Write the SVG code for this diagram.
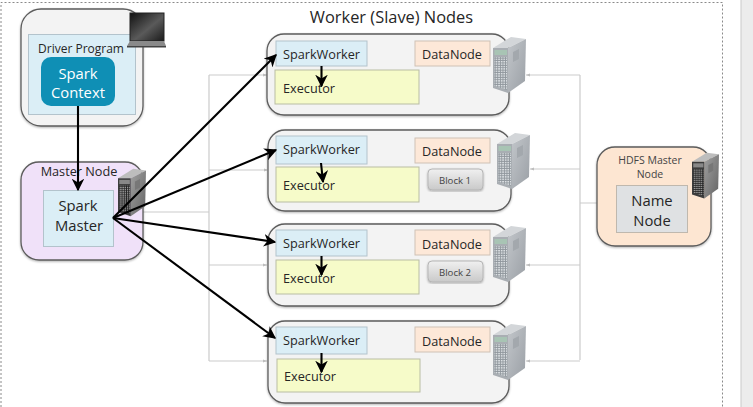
<svg xmlns="http://www.w3.org/2000/svg" width="753" height="407" viewBox="0 0 753 407">
<style>
text{font-family:"Open Sans","Noto Sans","Liberation Sans",sans-serif;fill:#262626;text-anchor:middle}
.outer{stroke:#5c5c5c;stroke-width:1.3;filter:url(#sh)}
.worker{fill:#f3f3f3}
.sw{fill:#dbeef6;stroke:#b3c3cc;stroke-width:1}
.ex{fill:#f6fbc9;stroke:#b9bda4;stroke-width:1}
.dn{fill:#fde8d8;stroke:#cfc2b6;stroke-width:1}
.blk{fill:url(#blk);stroke:#b5b5b5;stroke-width:1;filter:url(#sh)}
.t{font-size:12.7px}
.tb{font-size:14.8px}
.ts{font-size:9.6px;fill:#444}
.grey{fill:none;stroke:#cbcbcb;stroke-width:1.2}
.gh{fill:#bdbdbd}
.blk-line{fill:none;stroke:#000;stroke-width:2.1;marker-end:url(#ah)}
</style>
<defs>
<filter id="sh" x="-5%" y="-5%" width="110%" height="112%"><feDropShadow dx="0" dy="1" stdDeviation="1" flood-color="#000" flood-opacity=".3"/></filter>
<linearGradient id="blk" x1="0" y1="0" x2="0" y2="1"><stop offset="0" stop-color="#f0f0f0"/><stop offset="1" stop-color="#c9c9c9"/></linearGradient>
<linearGradient id="r1" x1="0" y1="0" x2="1" y2="1"><stop offset="0" stop-color="#c2c6ca"/><stop offset="1" stop-color="#9a9fa5"/></linearGradient>
<linearGradient id="r2" x1="0" y1="0" x2="1" y2="1"><stop offset="0" stop-color="#a0a0a0"/><stop offset="1" stop-color="#646464"/></linearGradient>
<linearGradient id="scr" x1="0" y1="0" x2="1" y2="1"><stop offset="0" stop-color="#111"/><stop offset=".55" stop-color="#5a5a5a"/><stop offset="1" stop-color="#1a1a1a"/></linearGradient>
<pattern id="g1" width="2.6" height="2.4" patternUnits="userSpaceOnUse"><rect width="2.6" height="2.4" fill="#8f969c"/><rect width="1.7" height="1.4" fill="#dfe3e6"/></pattern>
<pattern id="g2" width="2.6" height="2.4" patternUnits="userSpaceOnUse"><rect width="2.6" height="2.4" fill="#222"/><rect width="1.7" height="1.4" fill="#9a9a9a"/></pattern>
<marker id="ah" viewBox="0 0 10 10" refX="9" refY="5" markerWidth="6" markerHeight="6" orient="auto" markerUnits="strokeWidth"><path d="M0 0L10 5L0 10L3 5Z" fill="#000"/></marker>
<symbol id="srv" viewBox="0 0 33 57" overflow="visible">
<polygon points="0,11 18,0 33,2 15,11" fill="#d3d6d9"/>
<polygon points="15,11 33,2 32,44 15,56" fill="url(#r1)"/>
<polygon points="0,11 15,11 15,56 0,51" fill="#a9aeb3"/>
<polygon points="20,15 26,12 26,22 20,25" fill="#a3a8ad"/>
<polygon points="1.500,13 14,13 14,18 1.500,18" fill="#a8c4b4"/>
<polygon points="1.500,20 14,20 14,53 1.500,49" fill="url(#g1)"/>
</symbol>
<symbol id="srvd" viewBox="0 0 33 57" overflow="visible">
<polygon points="0,11 18,0 33,2 15,11" fill="#bdbdbd"/>
<polygon points="15,11 33,2 32,44 15,56" fill="url(#r2)"/>
<polygon points="0,11 15,11 15,56 0,51" fill="#3c3c3c"/>
<polygon points="20,15 26,12 26,22 20,25" fill="#777"/>
<polygon points="1.500,13 14,13 14,18 1.500,18" fill="#888"/>
<polygon points="1.500,20 14,20 14,53 1.500,49" fill="url(#g2)"/>
</symbol>
</defs>
<rect width="753" height="407" fill="#fff"/>
<rect x="741" y="0" width="12" height="407" fill="#ececec"/>
<line x1="741" y1="0" x2="741" y2="407" stroke="#c9c9c9"/>
<path d="M1 407V2.500H722.500V407" fill="none" stroke="#8a8a8a" stroke-width="1" stroke-dasharray="2 2"/>
<text x="391.500" y="23" font-size="16.400">Worker (Slave) Nodes</text>

<g id="connectors-data">
<path class="grey" d="M143 212H209M209 75V361M209 75H267M209 170H267M209 265H267M209 361H267"/>
<path class="grey" d="M597 203H580M580 75V360M580 75H526M580 169H530M580 265H526M580 361H526"/>
<path class="gh" d="M267 75l-4-1.500v3zM268 170l-4-1.500v3zM267 265l-4-1.500v3zM267 361l-4-1.500v3zM526 75l4-1.500v3zM530 169l4-1.500v3zM526 265l4-1.500v3zM526 361l4-1.500v3z"/>
</g>

<g id="driver">
<rect class="outer" x="21" y="9" width="122" height="117" rx="20" fill="#f3f3f3"/>
<rect x="28.500" y="34.500" width="107" height="80" fill="#dbeef6" stroke="#b3c3cc"/>
<text x="81" y="53" font-size="12">Driver Program</text>
<rect x="41" y="57" width="74" height="49" rx="10" fill="#0f8fb5"/>
<text x="78" y="79" font-size="14.800" style="fill:#fff">Spark</text>
<text x="78" y="98" font-size="14.800" style="fill:#fff">Context</text>
</g>
<g id="laptop">
<rect x="130" y="13" width="34" height="28" fill="url(#scr)" stroke="#222"/>
<polygon points="130,41 164,41 166,46 127,46" fill="#8a8a8a"/>
<rect x="127" y="46" width="39" height="1.500" fill="#444"/>
</g>

<g id="master">
<rect class="outer" x="21" y="162" width="122" height="98" rx="18" fill="#f0e1f9"/>
<text class="t" x="79" y="176">Master Node</text>
<rect x="43.500" y="190.500" width="70" height="56" fill="#dbeef6" stroke="#b3c3cc"/>
<text class="tb" x="78" y="211">Spark</text>
<text class="tb" x="79" y="231">Master</text>
<use href="#srvd" x="118" y="165" width="28" height="56"/>
</g>

<g id="worker1">
<rect class="outer worker" x="267" y="34" width="242" height="81" rx="17"/>
<rect class="sw" x="276" y="41" width="91" height="25"/>
<rect class="ex" x="275" y="70" width="144" height="34"/>
<rect class="dn" x="415" y="41" width="75" height="25"/>
<text class="t" x="321.500" y="59">SparkWorker</text>
<text class="t" x="309" y="93">Executor</text>
<text class="t" x="452" y="59">DataNode</text>
<use href="#srv" x="493" y="37" width="33" height="57"/>
</g>
<g id="worker2">
<rect class="outer worker" x="268" y="130" width="243" height="81" rx="17"/>
<rect class="sw" x="276" y="136" width="91" height="28"/>
<rect class="ex" x="276" y="167" width="143" height="35"/>
<rect class="dn" x="415" y="138" width="75" height="25"/>
<rect class="blk" x="428" y="169" width="55" height="21" rx="4"/>
<text class="t" x="321.500" y="154">SparkWorker</text>
<text class="t" x="309" y="190">Executor</text>
<text class="t" x="452" y="156">DataNode</text>
<text class="ts" x="455" y="184">Block 1</text>
<use href="#srv" x="497" y="133" width="33" height="57"/>
</g>
<g id="worker3">
<rect class="outer worker" x="268" y="224" width="241" height="82" rx="17"/>
<rect class="sw" x="276" y="230" width="91" height="26"/>
<rect class="ex" x="276" y="260" width="143" height="34"/>
<rect class="dn" x="415" y="230" width="75" height="25"/>
<rect class="blk" x="428" y="261" width="55" height="21" rx="4"/>
<text class="t" x="321.500" y="248">SparkWorker</text>
<text class="t" x="309" y="283">Executor</text>
<text class="t" x="452" y="249">DataNode</text>
<text class="ts" x="455" y="276">Block 2</text>
<use href="#srv" x="493" y="226" width="33" height="57"/>
</g>
<g id="worker4">
<rect class="outer worker" x="268" y="321" width="241" height="82" rx="17"/>
<rect class="sw" x="276" y="327" width="91" height="27"/>
<rect class="ex" x="277" y="359" width="143" height="33"/>
<rect class="dn" x="415" y="327" width="75" height="25"/>
<text class="t" x="321.500" y="345">SparkWorker</text>
<text class="t" x="310" y="381">Executor</text>
<text class="t" x="452" y="346">DataNode</text>
<use href="#srv" x="493" y="324" width="33" height="57"/>
</g>

<g id="hdfs">
<rect class="outer" x="597" y="147" width="114" height="99" rx="18" fill="#fde6d2"/>
<text x="650" y="164" font-size="10.500" style="fill:#444">HDFS Master</text>
<text x="650" y="178" font-size="10.500" style="fill:#444">Node</text>
<rect x="616.500" y="185.500" width="71" height="47" fill="#dfe1e3" stroke="#bfb8ae"/>
<text class="tb" x="652" y="206">Name</text>
<text class="tb" x="652" y="226">Node</text>
<use href="#srvd" x="692" y="150" width="27" height="52"/>
</g>

<g id="connectors">
<path class="blk-line" d="M78 106V190"/>
<path class="blk-line" d="M113 218L276 55"/>
<path class="blk-line" d="M113 218L276 150"/>
<path class="blk-line" d="M113 218L275 242"/>
<path class="blk-line" d="M113 218L275 338"/>
<path class="blk-line" d="M321.500 66V86"/>
<path class="blk-line" d="M321 163L323 182"/>
<path class="blk-line" d="M321.500 256V275"/>
<path class="blk-line" d="M321.500 353V372"/>
</g>
</svg>
